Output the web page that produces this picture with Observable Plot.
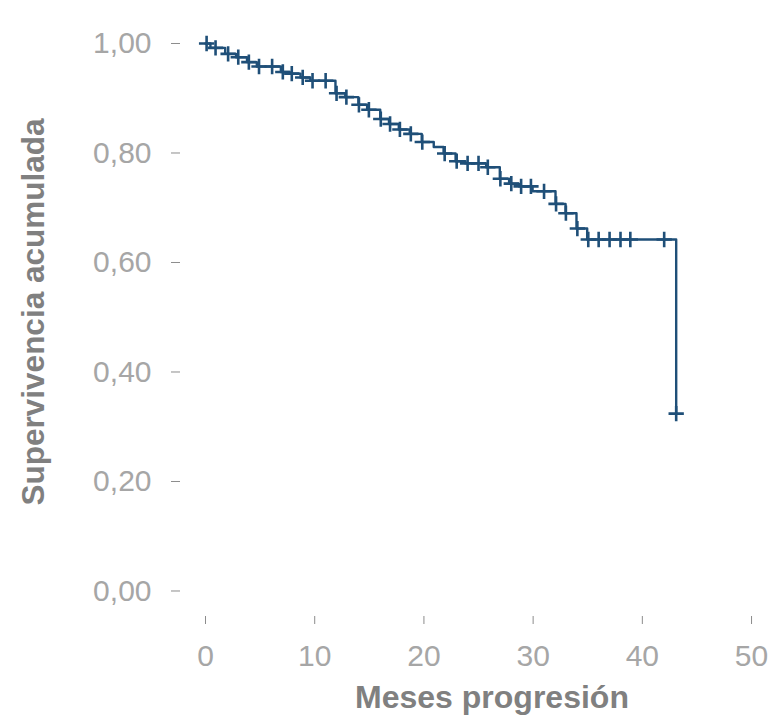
<!DOCTYPE html>
<html><head><meta charset="utf-8">
<script src="https://cdn.jsdelivr.net/npm/d3@7"></script>
<script src="https://cdn.jsdelivr.net/npm/@observablehq/plot@0.6"></script>
<style>body{margin:0;background:#fff}</style>
</head><body><div id="chart"></div>
<script>
// Kaplan–Meier step curve: time of each drop and survival after it
const eventTimes = [0, 0.45, 1.8, 2.8, 3.8, 4.7, 6.9, 7.7, 8.7, 9.6, 11.9, 12.8, 14.0, 14.8, 16.0, 16.8, 17.7, 18.7, 19.8, 20.9, 21.8, 22.9, 23.8, 25.7, 26.95, 27.8, 28.7, 29.95, 32.05, 32.97, 33.97, 34.95, 43.1];
const survival   = [1.000, 0.992, 0.981, 0.975, 0.966, 0.958, 0.948, 0.945, 0.938, 0.932, 0.909, 0.902, 0.888, 0.879, 0.862, 0.853, 0.843, 0.835, 0.820, 0.811, 0.799, 0.785, 0.781, 0.774, 0.753, 0.744, 0.739, 0.730, 0.707, 0.690, 0.662, 0.642, 0.324];
// Censored observations
const censorTimes    = [0.1, 0.92, 2.07, 3.0, 3.97, 4.9, 6.1, 7.08, 7.9, 8.9, 9.8, 11.0, 12.0, 12.9, 14.05, 14.96, 16.05, 16.9, 17.8, 18.8, 19.85, 21.9, 23.0, 24.0, 25.0, 25.85, 27.0, 28.0, 28.9, 29.8, 31.0, 32.1, 33.0, 34.05, 35.05, 36.0, 37.0, 38.0, 38.9, 42.0, 43.1];
const censorSurvival = [1.000, 0.992, 0.981, 0.975, 0.966, 0.958, 0.958, 0.948, 0.945, 0.938, 0.932, 0.932, 0.909, 0.902, 0.888, 0.879, 0.862, 0.853, 0.843, 0.835, 0.820, 0.799, 0.785, 0.781, 0.781, 0.774, 0.753, 0.744, 0.739, 0.739, 0.730, 0.707, 0.690, 0.662, 0.642, 0.642, 0.642, 0.642, 0.642, 0.642, 0.324];
const xTicks = [0, 10, 20, 30, 40, 50];
const yTicks = [0, 0.2, 0.4, 0.6, 0.8, 1.0];
const xTitle = "Meses progresión";
const yTitle = "Supervivencia acumulada";

const curve = eventTimes.map((t, i) => ({t, s: survival[i]}));
const censored = censorTimes.map((t, i) => ({t, s: censorSurvival[i]}));

const lineColor = "#1f4f78";
const fmt = d => d.toFixed(2).replace(".", ",");

const plot = Plot.plot({
  width: 779, height: 719,
  marginLeft: 180, marginRight: 0, marginTop: 12, marginBottom: 103,
  style: {fontFamily: "'Liberation Sans', Arial, sans-serif", background: "#fff", overflow: "visible"},
  x: {domain: [-2.29, 52.56]},
  y: {domain: [-0.0466, 1.0566]},
  marks: [
    Plot.axisY({ticks: yTicks, tickFormat: fmt, tickSize: 9, tickPadding: 20, fontSize: 30, stroke: "#8c8c8c", fill: "#a6a6a6", line: true, label: null}),
    Plot.axisX({ticks: xTicks, tickFormat: d => String(d), tickSize: 8, tickPadding: 20, fontSize: 30, stroke: "#8c8c8c", fill: "#a6a6a6", line: true, label: null}),
    Plot.line(curve, {x: "t", y: "s", curve: "step-after", stroke: lineColor, strokeWidth: 2.4}),
    Plot.dot(censored, {x: "t", y: "s", symbol: "plus", r: 5, stroke: lineColor, strokeWidth: 2.6})
  ]
});

const svg = d3.select(plot);
svg.append("text")
  .attr("transform", "translate(44,312) rotate(-90)")
  .attr("text-anchor", "middle")
  .attr("font-family", "'Liberation Sans', Arial, sans-serif")
  .attr("font-weight", "bold")
  .attr("font-size", 31.5)
  .attr("fill", "#808080")
  .text(yTitle);
svg.append("text")
  .attr("x", 492).attr("y", 708)
  .attr("text-anchor", "middle")
  .attr("font-family", "'Liberation Sans', Arial, sans-serif")
  .attr("font-weight", "bold")
  .attr("font-size", 32)
  .attr("fill", "#808080")
  .text(xTitle);

document.getElementById("chart").appendChild(plot);
</script>
</body></html>
